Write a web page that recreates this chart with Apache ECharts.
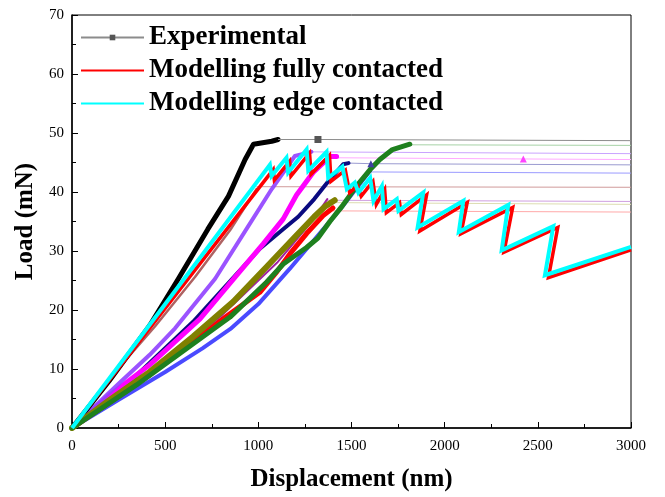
<!DOCTYPE html>
<html>
<head>
<meta charset="utf-8">
<script src="https://cdn.jsdelivr.net/npm/echarts@6/dist/echarts.min.js"></script>
<style>
  html, body { margin: 0; padding: 0; background: #fff; }
  #char { width: 665px; height: 497px; }
</style>
</head>
<body>
<div id="char"></div>
<script>
// tick labels
const xTicks = [0, 500, 1000, 1500, 2000, 2500, 3000]
const yTicks = [0, 10, 20, 30, 40, 50, 60, 70]

// experimental curves (displacement nm, load mN)
const expBlack = [[0, 0], [200, 8], [418, 17.4], [571, 25.3], [729, 33.7], [840, 39.3], [929, 45.5], [974, 48.1], [1072, 48.6], [1106, 48.9]]
const tailBlack = [[1106, 48.9], [1320, 48.9], [3000, 48.7]]
const expWine = [[0, 0], [230, 9.4], [445, 17.2], [660, 25.6], [850, 33.6], [990, 40.5]]
const tailWine = [[990, 40.9], [3000, 40.8]]
const expViolet = [[0, 0], [250, 7.5], [417, 12.4], [553, 16.9], [768, 25.3], [936, 33.7], [1072, 40.5], [1196, 46.1], [1285, 46.8]]
const tailViolet = [[1285, 46.8], [3000, 46.5]]
const expMagenta = [[0, 0], [200, 5.5], [417, 10.7], [687, 18.5], [900, 26.5], [1026, 31.2], [1133, 35.4], [1205, 39.5], [1294, 43.3], [1384, 46.0], [1420, 46.0]]
const tailMagenta = [[1420, 45.8], [2422, 45.6], [3000, 45.5]]
const expNavy = [[0, 0], [292, 7.3], [650, 18], [1008, 30.4], [1133, 33.7], [1214, 35.8], [1300, 38.8], [1380, 42], [1455, 44.7], [1484, 44.9]]
const tailNavy = [[1484, 44.9], [1604, 44.8], [3000, 44.6]]
const expBlue = [[0, 0], [250, 4.8], [500, 9.5], [700, 13.5], [850, 16.8], [1000, 21], [1169, 27], [1348, 33.7], [1450, 37.5], [1599, 43.6]]
const tailBlue = [[1599, 43.4], [3000, 43.2]]
const expGreen = [[0, 0], [346, 7.3], [739, 16.3], [848, 18.8], [1044, 24.7], [1134, 27.8], [1205, 29.4], [1259, 30.6], [1320, 32.2], [1384, 35], [1450, 37.6], [1527, 41], [1600, 43.8], [1652, 45.5], [1720, 47.2], [1813, 48.1]]
const tailGreen = [[1813, 48.0], [3000, 47.9]]
const expOlive = [[0, 0], [200, 4.7], [417, 9.5], [650, 15.5], [865, 21.4], [1050, 27.5], [1200, 32.5], [1300, 35.8], [1360, 37.6], [1410, 38.6]]
const tailOlive = [[1410, 38.2], [3000, 37.9]]
const expRed = [[0, 0], [417, 9], [700, 16], [1008, 23], [1100, 26.5], [1169, 29.5], [1260, 33], [1348, 36], [1400, 37.3]]
const tailRed = [[1400, 36.8], [3000, 36.6]]
const expPurple = [[0, 0], [400, 9], [800, 19], [1100, 28], [1300, 35.5], [1370, 38.8]]
const tailPurple = [[1370, 38.6], [3000, 38.4]]

// modelling curves
const modelFully = [[0, 0], [1080, 43.8], [1086, 42.0], [1168, 45.2], [1175, 42.7], [1275, 46.6], [1283, 43.0], [1382, 46.2], [1390, 41.8], [1467, 43.7], [1490, 39.9], [1533, 41.0], [1552, 39.3], [1615, 41.8], [1633, 37.9], [1678, 40.4], [1687, 36.5], [1758, 38.2], [1767, 36.2], [1903, 39.5], [1867, 33.4], [2121, 38.2], [2087, 32.9], [2365, 37.4], [2318, 29.8], [2607, 34.0], [2557, 25.5], [3000, 30.2]]
const modelEdge = [[0, 0], [1062, 44.6], [1071, 42.7], [1151, 45.8], [1160, 43.3], [1259, 47.2], [1268, 43.6], [1366, 46.8], [1375, 42.4], [1451, 44.3], [1475, 40.5], [1518, 41.6], [1537, 39.9], [1600, 42.4], [1618, 38.5], [1663, 41.0], [1672, 37.1], [1743, 38.8], [1752, 36.8], [1885, 39.9], [1855, 34.0], [2100, 38.5], [2076, 33.2], [2341, 37.8], [2306, 30.1], [2583, 34.2], [2538, 25.9], [3000, 30.7]]

const font = 'Liberation Serif, Times New Roman, serif'

function thick(data, color, width, opacity) {
  return {
    type: 'line', data: data, symbol: 'none', silent: true,
    lineStyle: { color: color, width: width, opacity: opacity || 1, cap: 'round', join: 'round' }
  }
}
function tail(data, color, markColor, markSymbol, markIdx, name) {
  return {
    name: name, type: 'line', silent: true,
    symbol: markSymbol || 'none', symbolSize: 7,
    data: data.map((p, i) => (markIdx && markIdx.indexOf(i) >= 0) ? { value: p } : { value: p, symbol: 'none' }),
    itemStyle: { color: markColor || color },
    lineStyle: { color: color, width: 1 }
  }
}

let myChart = echarts.init(document.getElementById('char'))
let option = {
  animation: false,
  grid: {
    left: 72, right: 34, top: 15, bottom: 67,
    show: true, borderColor: '#000', borderWidth: 1
  },
  legend: {
    orient: 'vertical', left: 75, top: 19,
    itemWidth: 63, itemHeight: 7, itemGap: 6,
    textStyle: { fontFamily: font, fontWeight: 'bold', fontSize: 27, color: '#000' },
    data: [
      'Experimental',
      { name: 'Modelling fully contacted', itemStyle: { opacity: 0 } },
      { name: 'Modelling edge contacted', itemStyle: { opacity: 0 } }
    ]
  },
  xAxis: {
    type: 'value', min: 0, max: 3000, interval: 500,
    name: 'Displacement (nm)', nameLocation: 'middle', nameGap: 39,
    nameTextStyle: { fontFamily: font, fontWeight: 'bold', fontSize: 25, color: '#000' },
    axisLine: { lineStyle: { color: '#000', width: 1.5 } },
    axisTick: { inside: true, length: 6, lineStyle: { color: '#000' } },
    minorTick: { show: true, splitNumber: 2, length: 4, lineStyle: { color: '#000' } },
    axisLabel: { fontFamily: font, fontSize: 15, color: '#000', margin: 11, formatter: v => xTicks.indexOf(v) >= 0 ? v : '' },
    splitLine: { show: false }
  },
  yAxis: {
    type: 'value', min: 0, max: 70, interval: 10,
    name: 'Load (mN)', nameLocation: 'middle', nameGap: 33,
    nameTextStyle: { fontFamily: font, fontWeight: 'bold', fontSize: 25, color: '#000' },
    axisLine: { show: true, lineStyle: { color: '#000', width: 1.5 } },
    axisTick: { show: true, inside: true, length: 6, lineStyle: { color: '#000' } },
    minorTick: { show: true, splitNumber: 2, length: 4, lineStyle: { color: '#000' } },
    axisLabel: { fontFamily: font, fontSize: 15, color: '#000', margin: 8, formatter: v => yTicks.indexOf(v) >= 0 ? v : '' },
    splitLine: { show: false }
  },
  series: [
    tail(tailGreen, '#a6d2a6'),
    tail(tailViolet, '#c9a3ff'),
    tail(tailMagenta, '#ffaaff', '#ff44ff', 'triangle', [1]),
    tail(tailNavy, '#9a9ad0', '#4040a0', 'triangle', [1]),
    tail(tailBlue, '#9a9aff'),
    tail(tailWine, '#d09a9a'),
    tail(tailPurple, '#cf9fdf'),
    tail(tailOlive, '#dcdcb0'),
    tail(tailRed, '#ffa8a8'),
    thick(expBlue, '#2a2aff', 4, 0.85),
    thick(expNavy, '#0a0a80', 4),
    thick(expRed, '#ff0000', 5),
    thick(expPurple, '#a020a0', 2),
    thick(expMagenta, '#ff00ff', 5),
    thick(expViolet, '#9040ff', 4, 0.9),
    thick(expWine, '#8b2020', 2.5, 0.7),
    thick(expBlack, '#000000', 5),
    thick(expOlive, '#808000', 6),
    thick(expGreen, '#1e801e', 5),
    tail(tailBlack, '#8c8c8c', '#555555', 'rect', [1], 'Experimental'),
    {
      name: 'Modelling fully contacted', type: 'line', data: modelFully, symbol: 'none', silent: true,
      itemStyle: { color: '#ff0000' },
      lineStyle: { color: '#ff0000', width: 3.5, join: 'miter' }
    },
    {
      name: 'Modelling edge contacted', type: 'line', data: modelEdge, symbol: 'none', silent: true,
      itemStyle: { color: '#00ffff' },
      lineStyle: { color: '#00ffff', width: 4, join: 'miter' }
    }
  ]
}
myChart.setOption(option)
</script>
</body>
</html>
